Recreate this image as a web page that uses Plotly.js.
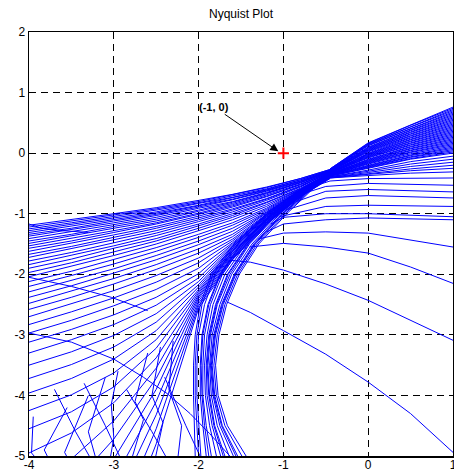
<!DOCTYPE html>
<html>
<head>
<meta charset="utf-8">
<script src="https://cdn.plot.ly/plotly-3.0.1.min.js"></script>
<style>html,body{margin:0;padding:0;background:#fff;}#chart{width:454px;height:473px;}</style>
</head>
<body>
<div id="chart"></div>
<script>
// ---- tick labels ----
const xTicks = [-4, -3, -2, -1, 0, 1];
const xTickText = ['-4', '-3', '-2', '-1', '0', '1'];
const yTicks = [-5, -4, -3, -2, -1, 0, 1, 2];
const yTickText = ['-5', '-4', '-3', '-2', '-1', '0', '1', '2'];

// ---- critical point ----
const critX = [-1];
const critY = [0];

// ---- right-hand branch: y read at these x positions ----
const rightX = [1, 0.5, 0, -0.45];
const rightY = [
  [0.76, 0.47, 0.17, -0.26], [0.74, 0.46, 0.16, -0.26], [0.72, 0.44, 0.15, -0.27],
  [0.70, 0.43, 0.14, -0.27], [0.68, 0.41, 0.13, -0.27], [0.66, 0.40, 0.12, -0.28],
  [0.64, 0.38, 0.10, -0.28], [0.62, 0.37, 0.09, -0.28], [0.60, 0.35, 0.08, -0.29],
  [0.58, 0.34, 0.07, -0.29], [0.56, 0.32, 0.06, -0.29], [0.54, 0.31, 0.05, -0.30],
  [0.52, 0.29, 0.04, -0.30], [0.50, 0.28, 0.03, -0.30], [0.48, 0.26, 0.02, -0.30],
  [0.46, 0.25, 0.00, -0.31], [0.44, 0.23, -0.01, -0.31], [0.42, 0.22, -0.02, -0.31],
  [0.40, 0.20, -0.03, -0.32], [0.38, 0.19, -0.04, -0.32], [0.36, 0.17, -0.05, -0.32],
  [0.34, 0.16, -0.06, -0.33], [0.32, 0.14, -0.07, -0.33], [0.30, 0.13, -0.08, -0.33],
  [0.28, 0.11, -0.10, -0.34], [0.26, 0.10, -0.11, -0.34], [0.24, 0.08, -0.12, -0.34],
  [0.22, 0.07, -0.13, -0.35], [0.20, 0.05, -0.14, -0.35], [0.18, 0.04, -0.15, -0.35],
  [0.16, 0.02, -0.16, -0.36], [0.14, 0.01, -0.17, -0.36], [0.12, -0.01, -0.18, -0.36],
  [0.10, -0.03, -0.20, -0.36], [0.08, -0.04, -0.21, -0.37], [0.06, -0.06, -0.22, -0.37],
  [0.04, -0.07, -0.23, -0.37], [0.02, -0.09, -0.24, -0.38], [0.00, -0.10, -0.25, -0.38],
  [-0.05, -0.14, -0.28, -0.39], [-0.10, -0.18, -0.30, -0.39], [-0.15, -0.22, -0.32, -0.40],
  [-0.20, -0.26, -0.34, -0.40], [-0.25, -0.29, -0.35, -0.41], [-0.31, -0.33, -0.37, -0.41]
];

// ---- left fan: y read at these x positions ----
const fanX = [-0.45, -0.8, -1.2, -1.6, -2.0, -2.5, -3.0, -3.5, -4.0];
const fanY = [
  [-0.27, -0.42, -0.56, -0.68, -0.78, -0.90, -1.00, -1.10, -1.19],
  [-0.27, -0.42, -0.57, -0.69, -0.80, -0.92, -1.02, -1.13, -1.22],
  [-0.28, -0.44, -0.59, -0.71, -0.82, -0.94, -1.05, -1.15, -1.25],
  [-0.28, -0.44, -0.60, -0.73, -0.83, -0.97, -1.07, -1.18, -1.28],
  [-0.29, -0.46, -0.61, -0.74, -0.86, -0.99, -1.10, -1.21, -1.31],
  [-0.29, -0.46, -0.62, -0.76, -0.87, -1.01, -1.12, -1.24, -1.34],
  [-0.29, -0.47, -0.63, -0.77, -0.89, -1.03, -1.15, -1.26, -1.37],
  [-0.30, -0.48, -0.65, -0.80, -0.91, -1.06, -1.18, -1.30, -1.41],
  [-0.30, -0.49, -0.66, -0.81, -0.94, -1.09, -1.21, -1.34, -1.45],
  [-0.30, -0.49, -0.67, -0.83, -0.96, -1.12, -1.24, -1.37, -1.49],
  [-0.31, -0.51, -0.69, -0.85, -0.99, -1.15, -1.28, -1.41, -1.53],
  [-0.31, -0.52, -0.71, -0.87, -1.01, -1.17, -1.31, -1.45, -1.57],
  [-0.31, -0.52, -0.72, -0.89, -1.04, -1.21, -1.35, -1.49, -1.62],
  [-0.32, -0.54, -0.75, -0.92, -1.07, -1.24, -1.39, -1.54, -1.67],
  [-0.32, -0.55, -0.76, -0.94, -1.10, -1.28, -1.43, -1.58, -1.72],
  [-0.32, -0.56, -0.78, -0.97, -1.13, -1.32, -1.48, -1.64, -1.78],
  [-0.33, -0.58, -0.81, -1.00, -1.17, -1.36, -1.53, -1.69, -1.84],
  [-0.33, -0.59, -0.82, -1.03, -1.20, -1.41, -1.57, -1.75, -1.90],
  [-0.33, -0.60, -0.85, -1.06, -1.24, -1.45, -1.63, -1.81, -1.97],
  [-0.34, -0.60, -0.88, -1.10, -1.28, -1.50, -1.69, -1.87, -2.04],
  [-0.34, -0.61, -0.91, -1.15, -1.34, -1.56, -1.76, -1.95, -2.12],
  [-0.34, -0.61, -0.93, -1.19, -1.39, -1.62, -1.83, -2.02, -2.20],
  [-0.35, -0.62, -0.95, -1.24, -1.45, -1.69, -1.91, -2.10, -2.29],
  [-0.35, -0.62, -0.97, -1.29, -1.51, -1.76, -1.98, -2.19, -2.38],
  [-0.35, -0.63, -0.98, -1.34, -1.58, -1.84, -2.07, -2.28, -2.48],
  [-0.36, -0.63, -0.99, -1.38, -1.65, -1.92, -2.16, -2.38, -2.58],
  [-0.36, -0.64, -1.01, -1.42, -1.73, -2.02, -2.27, -2.49, -2.70],
  [-0.36, -0.64, -1.02, -1.45, -1.81, -2.13, -2.39, -2.62, -2.83],
  [-0.37, -0.65, -1.03, -1.48, -1.90, -2.25, -2.52, -2.76, -2.97],
  [-0.37, -0.65, -1.04, -1.50, -1.99, -2.38, -2.67, -2.91, -3.12],
  [-0.37, -0.66, -1.05, -1.52, -2.06, -2.51, -2.83, -3.08, -3.30],
  [-0.38, -0.66, -1.06, -1.54, -2.12, -2.65, -3.01, -3.28, -3.50],
  [-0.38, -0.67, -1.07, -1.56, -2.17, -2.79, -3.20, -3.49, -3.72],
  [-0.38, -0.67, -1.08, -1.58, -2.21, -2.93, -3.40, -3.72, -3.96],
  [-0.39, -0.68, -1.09, -1.60, -2.25, -3.08, -3.63, -3.99, -4.25],
  [-0.39, -0.68, -1.10, -1.62, -2.28, -3.22, -3.86, -4.27, -4.55],
  [-0.39, -0.69, -1.11, -1.63, -2.31, -3.38, -4.12, -4.62, -4.95],
  [-0.40, -0.69, -1.12, -1.65, -2.34, -3.55, -4.42, -5.05, -5.45],
  [-0.40, -0.70, -1.13, -1.66, -2.37, -3.72, -4.72, -5.50, -6.10],
  [-0.40, -0.70, -1.14, -1.68, -2.40, -3.90, -5.05, -6.00, -6.80],
  [-0.41, -0.71, -1.15, -1.70, -2.44, -4.10, -5.40, -6.50, -7.50],
  [-0.41, -0.71, -1.16, -1.72, -2.48, -4.32, -5.80, -7.00, -8.00],
  [-0.41, -0.72, -1.17, -1.74, -2.52, -4.55, -6.20, -7.60, -8.80],
  [-0.42, -0.72, -1.18, -1.76, -2.56, -4.80, -6.60, -8.20, -9.60]
];

// ---- C-shaped bundle: x read at these y positions ----
const cupY = [-0.35, -0.6, -1.0, -1.5, -2.0, -2.5, -3.0, -3.5, -4.0, -4.5, -5.0, -5.5];
const cupX = [
  [-0.44, -0.66, -0.96, -1.29, -1.52, -1.67, -1.76, -1.80, -1.77, -1.66, -1.44, -1.20],
  [-0.44, -0.67, -0.98, -1.31, -1.54, -1.69, -1.78, -1.82, -1.79, -1.69, -1.49, -1.26],
  [-0.45, -0.68, -1.00, -1.33, -1.56, -1.71, -1.80, -1.84, -1.81, -1.72, -1.54, -1.32],
  [-0.45, -0.69, -1.01, -1.34, -1.57, -1.72, -1.81, -1.85, -1.82, -1.73, -1.56, -1.35],
  [-0.45, -0.69, -1.02, -1.35, -1.58, -1.73, -1.82, -1.86, -1.83, -1.75, -1.59, -1.38],
  [-0.45, -0.70, -1.04, -1.37, -1.61, -1.75, -1.84, -1.87, -1.85, -1.78, -1.64, -1.45],
  [-0.46, -0.71, -1.06, -1.40, -1.63, -1.78, -1.86, -1.89, -1.87, -1.81, -1.69, -1.52],
  [-0.46, -0.72, -1.07, -1.41, -1.65, -1.79, -1.87, -1.90, -1.88, -1.82, -1.71, -1.56],
  [-0.46, -0.72, -1.08, -1.42, -1.66, -1.80, -1.88, -1.91, -1.90, -1.84, -1.74, -1.60],
  [-0.46, -0.73, -1.10, -1.44, -1.69, -1.83, -1.90, -1.93, -1.92, -1.87, -1.79, -1.68],
  [-0.47, -0.74, -1.12, -1.47, -1.72, -1.86, -1.93, -1.95, -1.95, -1.91, -1.85, -1.77],
  [-0.47, -0.75, -1.13, -1.49, -1.74, -1.88, -1.95, -1.97, -1.96, -1.93, -1.88, -1.82],
  [-0.47, -0.76, -1.14, -1.50, -1.75, -1.89, -1.96, -1.98, -1.98, -1.95, -1.91, -1.86],
  [-0.47, -0.78, -1.17, -1.54, -1.80, -1.93, -2.00, -2.02, -2.02, -2.00, -1.98, -1.95],
  [-0.48, -0.79, -1.19, -1.56, -1.83, -1.96, -2.02, -2.04, -2.04, -2.02, -2.00, -1.98],
  [-0.48, -0.80, -1.20, -1.58, -1.85, -1.98, -2.04, -2.06, -2.06, -2.05, -2.04, -2.03]
];

// ---- sparse lower-right curves (points read along each) ----
const lowX = [
  [1, 0, -0.45, -0.65],
  [1, 0, -0.5, -0.75],
  [1, 0, -0.5, -0.85],
  [1, 0, -0.5, -0.95],
  [1, 0, -0.5, -1.05],
  [1, 0, -0.5, -1.0, -1.15],
  [1, 0, -0.5, -1.0, -1.2],
  [1, 0, -0.5, -1.0, -1.3],
  [1, 0.5, 0, -0.5, -1.0, -1.4],
  [1, 0.49, 0, -0.5, -1.0, -1.39, -1.7],
  [1, 0.5, 0, -0.5, -1.0, -1.39, -1.66]
];
const lowY = [
  [-0.41, -0.42, -0.46, -0.55],
  [-0.53, -0.50, -0.55, -0.66],
  [-0.64, -0.60, -0.63, -0.80],
  [-0.74, -0.70, -0.74, -0.93],
  [-0.88, -0.86, -0.88, -1.05],
  [-1.05, -1.00, -1.00, -1.06, -1.17],
  [-1.10, -1.07, -1.10, -1.17, -1.30],
  [-1.55, -1.32, -1.30, -1.32, -1.42],
  [-2.15, -1.88, -1.65, -1.55, -1.49, -1.55],
  [-3.09, -2.76, -2.43, -2.16, -1.93, -1.80, -1.76],
  [-4.94, -4.30, -3.78, -3.32, -2.93, -2.63, -2.46]
];

// ---- lower-left arcs and coarse jagged tails ----
const tailX = [
  [-4.05, -4.0, -3.5, -3.0, -2.65, -2.37, -2.1, -1.87, -1.6],
  [-4.0, -3.85, -3.6, -3.3],
  [-4.0, -3.5, -3.03, -2.6],
  [-3.95, -3.97, -3.88],
  [-3.3, -3.58, -3.52],
  [-3.55, -3.82, -3.75],
  [-3.1, -3.3, -3.2],
  [-2.95, -3.03, -3.0, -3.05],
  [-2.6, -2.75, -2.65, -2.8],
  [-2.45, -2.55, -2.42, -2.52],
  [-2.3, -2.35, -2.2, -2.25],
  [-3.7, -3.45, -3.25],
  [-3.35, -3.1, -2.9],
  [-2.85, -2.55, -2.35],
  [-2.4, -2.15, -1.95]
];
const tailY = [
  [-2.96, -2.97, -3.12, -3.40, -3.70, -3.97, -4.30, -4.63, -5.05],
  [-1.17, -1.24, -1.28, -1.31],
  [-2.05, -2.20, -2.38, -2.60],
  [-4.35, -4.95, -5.10],
  [-4.00, -4.94, -5.10],
  [-4.20, -4.90, -5.10],
  [-3.70, -4.60, -5.10],
  [-3.60, -4.15, -4.70, -5.10],
  [-3.30, -4.10, -4.40, -5.10],
  [-3.20, -4.00, -4.45, -5.10],
  [-3.10, -3.90, -4.50, -5.10],
  [-3.90, -4.60, -5.10],
  [-3.80, -4.50, -5.10],
  [-3.90, -4.60, -5.10],
  [-3.70, -4.50, -5.10]
];

const BLUE = '#0000ff';
const traces = [];
function addLine(xs, ys) {
  traces.push({type: 'scatter', mode: 'lines', x: xs, y: ys,
    line: {color: BLUE, width: 1}, hoverinfo: 'skip', showlegend: false});
}
rightY.forEach(ys => addLine(rightX, ys));
fanY.forEach(ys => addLine(fanX, ys));
cupX.forEach(xs => addLine(xs, cupY));
lowX.forEach((xs, i) => addLine(xs, lowY[i]));
tailX.forEach((xs, i) => addLine(xs, tailY[i]));

traces.push({type: 'scatter', mode: 'markers', x: critX, y: critY,
  marker: {symbol: 'cross-thin', size: 8, color: 'red', line: {color: 'red', width: 2}},
  hoverinfo: 'skip', showlegend: false});

const FONT = 'Arial, "Liberation Sans", Helvetica, sans-serif';
const axisCommon = {
  showgrid: true, gridcolor: '#000000', gridwidth: 1, griddash: '7px,5px',
  zeroline: false, showline: true, mirror: true, linecolor: '#000000', linewidth: 1.5,
  ticks: 'inside', ticklen: 4, tickcolor: '#000000', ticklabeloverflow: 'allow',
  tickfont: {family: FONT, size: 12, color: '#000000'}, fixedrange: true
};
const layout = {
  width: 454, height: 473,
  margin: {l: 29, r: 1, t: 32, b: 17, pad: 0},
  paper_bgcolor: '#ffffff', plot_bgcolor: '#ffffff',
  title: {text: 'Nyquist Plot', font: {family: FONT, size: 12, color: '#000000'},
    x: 0.5, xref: 'paper', y: 1 - 14 / 473, yref: 'container', yanchor: 'middle'},
  xaxis: Object.assign({}, axisCommon, {range: [-4, 1], tickvals: xTicks, ticktext: xTickText,
    ticklabelstandoff: -3}),
  yaxis: Object.assign({}, axisCommon, {range: [-5, 2], tickvals: yTicks, ticktext: yTickText}),
  annotations: [
    {x: -1.06, y: 0.03, ax: -1.71, ay: 0.66, xref: 'x', yref: 'y', axref: 'x', ayref: 'y',
     text: '', showarrow: true, arrowhead: 2, arrowsize: 1.6, arrowwidth: 1, arrowcolor: '#000000', standoff: 0},
    {x: -1.82, y: 0.76, xref: 'x', yref: 'y', text: '<b>(-1, 0)</b>', showarrow: false,
     font: {family: FONT, size: 11, color: '#000000'}}
  ],
  showlegend: false
};
Plotly.newPlot('chart', traces, layout, {staticPlot: true, displayModeBar: false});
</script>
</body>
</html>
